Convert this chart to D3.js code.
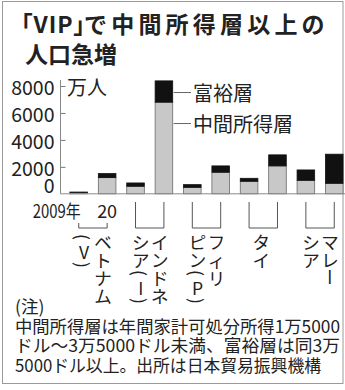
<!DOCTYPE html>
<html><head><meta charset="utf-8">
<script src="https://cdn.jsdelivr.net/npm/d3@7"></script>
<style>
html,body{margin:0;padding:0;background:#fff;}
svg{display:block;}
text{font-family:"Noto Sans CJK JP","Noto Sans",sans-serif;fill:#222;}
.palt{font-feature-settings:"palt";}
</style></head><body>
<svg id="chart" width="345" height="390"></svg>
<script>
// ---- data ----
const countries = ["ベトナム(V)", "インドネシア(I)", "フィリピン(P)", "タイ", "マレーシア"];
// vertical label columns, first column is the rightmost (read right to left)
const countryColumns = [["ベトナム", "(V)"], ["インドネ", "シア(I)"], ["フィリ", "ピン(P)"], ["タイ"], ["マレー", "シア"]];
const years = ["2009", "2020"];
const yearLabels = ["2009年", "20"];
const middleClass = [100, 1200, 560, 6800, 480, 1600, 930, 2070, 1000, 780];
const wealthy = [30, 300, 245, 1580, 200, 470, 220, 820, 770, 2160];
const yTicks = [0, 2000, 4000, 6000, 8000];
const seriesNames = ["富裕層", "中間所得層"];
const unitLabel = "万人";
const titleParts = ["「VIP」", "で中間所得層以上の"];
const titleLine2 = "人口急増";
const noteHead = "(注)";
const noteLines = [
  "中間所得層は年間家計可処分所得1万5000",
  "ドル〜3万5000ドル未満、富裕層は同3万",
  "5000ドル以上。出所は日本貿易振興機構"
];

// ---- table ----
const rows = [];
countries.forEach((c, i) => years.forEach((yr, j) => {
  const k = i * years.length + j;
  rows.push({ key: c + yr, country: c, year: yr, middle: middleClass[k], wealthy: wealthy[k] });
}));

const svg = d3.select("#chart");
const ink = "#222";

// frame
svg.append("rect").attr("x", 2.5).attr("y", 1.5).attr("width", 340.5).attr("height", 382)
  .attr("fill", "none").attr("stroke", "#9a9a9a").attr("stroke-width", 1);

// title: tight brackets, spaced kanji run
const t1 = svg.append("text").attr("y", 23).attr("dominant-baseline", "central")
  .attr("font-size", 23).attr("font-weight", 700);
t1.append("tspan").attr("class", "palt").attr("x", 21).attr("letter-spacing", 1).text(titleParts[0]);
t1.append("tspan").attr("x", 84).attr("letter-spacing", 4.2).text(titleParts[1]);
svg.append("text").attr("x", 25).attr("y", 53).attr("dominant-baseline", "central")
  .attr("font-size", 23).attr("font-weight", 700)
  .text(titleLine2);

// scales
const axisX = 60.5;
const x = d3.scaleBand().domain(rows.map(d => d.key)).range([60, 353])
  .paddingInner(0.38).paddingOuter(0.35);
const y = d3.scaleLinear().domain([0, 8000]).range([193.8, 86]);

// bars
const stack = d3.stack().keys(["middle", "wealthy"])(rows);
const fills = { middle: "#c8c8c8", wealthy: "#111" };
svg.append("g").selectAll("g").data(stack).join("g")
  .attr("fill", d => fills[d.key])
  .attr("stroke", d => d.key === "middle" ? "#6a6a6a" : "#111")
  .attr("stroke-width", 0.8)
  .selectAll("rect").data(d => d).join("rect")
  .attr("x", d => x(d.data.key))
  .attr("width", x.bandwidth())
  .attr("y", d => y(d[1]))
  .attr("height", d => y(d[0]) - y(d[1]));

// baseline
svg.append("line").attr("x1", axisX).attr("x2", 345).attr("y1", y(0)).attr("y2", y(0))
  .attr("stroke", "#8a8a8a").attr("stroke-width", 1);

// y axis: ticks on the right of the line, labels on the left
const tickG = svg.append("g").attr("transform", `translate(${axisX},0)`)
  .call(d3.axisRight(y).tickValues(yTicks.slice(1)).tickSize(5).tickFormat(""));
tickG.select(".domain").remove();
tickG.selectAll("line").attr("stroke", "#777");
svg.append("line").attr("x1", axisX).attr("x2", axisX).attr("y1", y(0)).attr("y2", y(8000) - 6)
  .attr("stroke", "#888");

const labG = svg.append("g").attr("transform", `translate(${axisX},0)`)
  .call(d3.axisLeft(y).tickValues(yTicks).tickSize(0).tickPadding(6).tickFormat(d3.format("d")));
labG.select(".domain").remove();
labG.selectAll("text")
  .attr("font-size", 19.5).attr("fill", ink).attr("font-family", '"Noto Sans CJK JP",sans-serif')
  .attr("dy", d => d === 0 ? "-0.05em" : "0.42em");

// unit
svg.append("text").attr("x", 67).attr("y", y(8000)).attr("dominant-baseline", "central")
  .attr("font-size", 20).text(unitLabel);

// legend with leader lines to the tallest bar
const big = rows[3];
const legY0 = y(big.middle + big.wealthy / 2) + 1;
const legendYs = [legY0, legY0 + 31];
seriesNames.forEach((s, i) => {
  svg.append("line").attr("x1", x(big.key) + x.bandwidth() + 1).attr("x2", 191)
    .attr("y1", legendYs[i]).attr("y2", legendYs[i]).attr("stroke", "#666");
  svg.append("text").attr("x", 193).attr("y", legendYs[i]).attr("dominant-baseline", "central")
    .attr("font-size", 20).text(s);
});

// year labels under the first pair
const yl = svg.append("g").attr("font-size", 18);
yl.append("text").attr("x", x(rows[0].key) + x.bandwidth() / 2 + 2).attr("y", 209.5)
  .attr("text-anchor", "end").attr("dominant-baseline", "central")
  .attr("textLength", 48).attr("lengthAdjust", "spacingAndGlyphs").text(yearLabels[0]);
yl.append("text").attr("x", x(rows[1].key) + x.bandwidth() / 2).attr("y", 209.5)
  .attr("text-anchor", "middle").attr("dominant-baseline", "central").text(yearLabels[1]);

// brackets and vertical country names
const bw = x.bandwidth();
const brG = svg.append("g").attr("fill", "none").attr("stroke", "#555").attr("stroke-width", 1);
const lblG = svg.append("g").attr("font-size", 17.5);
countries.forEach((c, i) => {
  const a = x(c + years[0]) + bw / 2, b = x(c + years[1]) + bw / 2;
  const top = i === 0 ? 223 : 202, bot = 228;
  brG.append("path").attr("d", `M${a},${top}V${bot}H${b}V${top}`);
  const mid = (a + b) / 2;
  const cols = countryColumns[i];
  cols.forEach((col, ci) => {
    const cx = cols.length === 1 ? mid - 2 : (ci === 0 ? mid + 10 : mid - 9);
    let cursor = 232;
    [...col].forEach(ch => {
      const isParen = ch === "(" || ch === ")";
      const adv = isParen ? 10 : 18;
      const cy = cursor + adv / 2;
      cursor += adv;
      const t = lblG.append("text").attr("x", cx).attr("y", cy)
        .attr("text-anchor", "middle").attr("dominant-baseline", "central").text(ch);
      if (isParen || ch === "ー") t.attr("transform", `rotate(90,${cx},${cy})`);
    });
  });
});

// footnote
const nt = svg.append("g").attr("font-size", 17.5);
nt.append("text").attr("x", 15).attr("y", 305).attr("dominant-baseline", "central").text(noteHead);
const noteWidths = [325, 325, 306];
noteLines.forEach((l, i) => {
  nt.append("text").attr("x", 15).attr("y", 325 + i * 19.5)
    .attr("dominant-baseline", "central")
    .attr("textLength", noteWidths[i]).attr("lengthAdjust", "spacingAndGlyphs")
    .text(l);
});
</script>
</body></html>
